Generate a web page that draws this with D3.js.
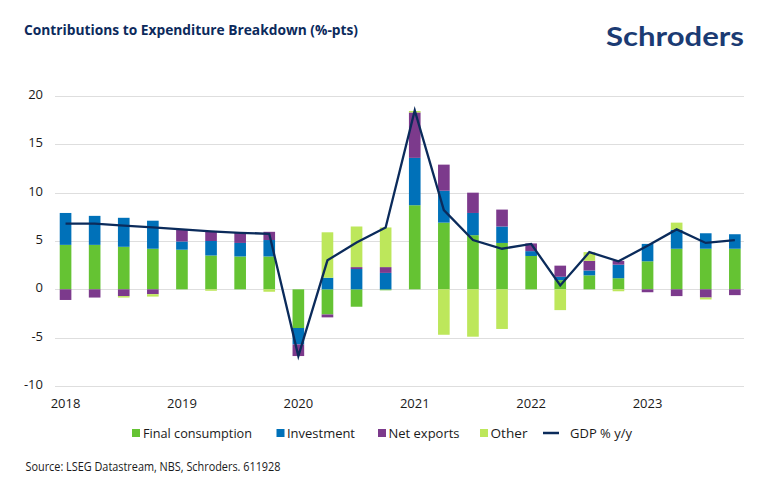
<!DOCTYPE html>
<html>
<head>
<meta charset="utf-8">
<script src="https://cdn.jsdelivr.net/npm/d3@7"></script>
<style>
  html, body { margin: 0; padding: 0; background: #ffffff; }
  svg { display: block; }
  text { font-family: "Open Sans", "Noto Sans", sans-serif; }
</style>
</head>
<body>
<svg id="chart" width="770" height="496"></svg>
<script>
// ---- Data ----
const quarters = ["2018Q1","2018Q2","2018Q3","2018Q4","2019Q1","2019Q2","2019Q3","2019Q4",
                  "2020Q1","2020Q2","2020Q3","2020Q4","2021Q1","2021Q2","2021Q3","2021Q4",
                  "2022Q1","2022Q2","2022Q3","2022Q4","2023Q1","2023Q2","2023Q3","2023Q4"];
const finalConsumption = [4.6, 4.6, 4.4, 4.2, 4.1, 3.5, 3.4, 3.4, -4.0, -2.6, -1.8, -0.1,
                          8.7, 6.9, 5.6, 4.8, 3.45, 0.95, 1.45, 1.15, 2.9, 4.2, 4.2, 4.2];
const investment = [3.3, 3.0, 3.0, 2.9, 0.85, 1.5, 1.4, 1.7, -1.7, 1.2, 2.1, 1.7,
                    4.9, 3.3, 2.3, 1.7, 0.5, 0.35, 0.5, 1.4, 1.8, 1.95, 1.6, 1.5];
const netExports = [-1.1, -0.85, -0.7, -0.5, 1.2, 0.95, 1.05, 0.85, -1.2, -0.3, 0.2, 0.6,
                    4.7, 2.7, 2.1, 1.75, 0.8, 1.15, 1.0, 0.4, -0.3, -0.7, -0.85, -0.6];
const other = [0, 0, -0.15, -0.25, 0, -0.15, 0, -0.25, 0, 4.7, 4.2, 4.1,
               0.15, -4.7, -4.9, -4.1, 0, -2.15, 0.9, -0.2, 0, 0.75, -0.2, 0];
const gdp = [6.8, 6.8, 6.6, 6.4, 6.2, 6.0, 5.85, 5.75, -6.9, 3.0, 4.85, 6.4,
             18.5, 8.2, 5.1, 4.2, 4.7, 0.4, 3.85, 2.9, 4.5, 6.2, 4.8, 5.1];
const yTicks = [-10, -5, 0, 5, 10, 15, 20];
const yearLabels = ["2018","2019","2020","2021","2022","2023"];
const seriesNames = ["Final consumption","Investment","Net exports","Other"];
const lineName = "GDP % y/y";
const titleText = "Contributions to Expenditure Breakdown (%-pts)";
const sourceText = "Source: LSEG Datastream, NBS, Schroders. 611928";

// ---- Styles ----
const colors = ["#65c333", "#0071b9", "#7c3a8c", "#bde75b"];
const lineColor = "#0b2b5b";
const navy = "#0c2a5c";

const svg = d3.select("#chart");

// table for stacking
const table = quarters.map((q, i) => ({
  q,
  "Final consumption": finalConsumption[i],
  "Investment": investment[i],
  "Net exports": netExports[i],
  "Other": other[i]
}));

const x = d3.scaleBand().domain(quarters).range([51, 749.4])
  .paddingInner(0.6).paddingOuter(0.3);
const y = d3.scaleLinear().domain([-10, 20]).range([386, 96]);

// gridlines
svg.append("g").selectAll("line").data(yTicks).join("line")
  .attr("x1", 55).attr("x2", 744)
  .attr("y1", d => Math.round(y(d)) + 0.5).attr("y2", d => Math.round(y(d)) + 0.5)
  .attr("stroke", "#dedede").attr("stroke-width", 1);

// y labels
svg.append("g").selectAll("text").data(yTicks).join("text")
  .attr("x", 43).attr("y", d => y(d) - 2)
  .attr("text-anchor", "end").attr("dominant-baseline", "central")
  .attr("font-size", 13).attr("fill", "#1a1a1a")
  .text(d => d);

// stacked bars
const stack = d3.stack().keys(seriesNames).offset(d3.stackOffsetDiverging);
const stacked = stack(table);
svg.append("g").selectAll("g").data(stacked).join("g")
  .attr("fill", (d, i) => colors[i])
  .selectAll("rect").data(d => d).join("rect")
  .attr("x", d => x(d.data.q))
  .attr("width", x.bandwidth())
  .attr("y", d => y(Math.max(d[0], d[1])))
  .attr("height", d => Math.abs(y(d[0]) - y(d[1])));

// GDP line
const line = d3.line().x((d, i) => x(quarters[i]) + x.bandwidth() / 2).y(d => y(d));
svg.append("path").datum(gdp)
  .attr("d", line).attr("fill", "none")
  .attr("stroke", lineColor).attr("stroke-width", 2.3)
  .attr("stroke-linejoin", "miter");

// x year labels (at Q1 positions)
svg.append("g").selectAll("text").data(yearLabels).join("text")
  .attr("x", d => x(d + "Q1") + x.bandwidth() / 2)
  .attr("y", 407.5)
  .attr("text-anchor", "middle")
  .attr("font-size", 13).attr("fill", "#1a1a1a")
  .text(d => d);

// title
svg.append("text").attr("x", 24).attr("y", 35)
  .attr("font-size", 14).attr("font-weight", "bold").attr("fill", navy)
  .attr("textLength", 334).attr("lengthAdjust", "spacingAndGlyphs")
  .text(titleText);

// logo
svg.append("text").attr("x", 606).attr("y", 46)
  .attr("font-size", 26).attr("font-weight", "bold").attr("fill", "#1b3b73")
  .attr("textLength", 138).attr("lengthAdjust", "spacingAndGlyphs")
  .style("font-family", "Lato, 'Open Sans', sans-serif")
  .text("Schroders");

// legend
const legendItems = [
  { name: seriesNames[0], sx: 132, tx: 143, tw: 109, type: "rect", color: colors[0] },
  { name: seriesNames[1], sx: 276.5, tx: 287, tw: 68, type: "rect", color: colors[1] },
  { name: seriesNames[2], sx: 378, tx: 388.5, tw: 71, type: "rect", color: colors[2] },
  { name: seriesNames[3], sx: 480, tx: 490.5, tw: 37, type: "rect", color: colors[3] },
  { name: lineName, sx: 543, tx: 570, tw: 62, type: "line", color: lineColor }
];
const lg = svg.append("g");
legendItems.forEach(it => {
  if (it.type === "rect") {
    lg.append("rect").attr("x", it.sx).attr("y", 429).attr("width", 8).attr("height", 8)
      .attr("fill", it.color);
  } else {
    lg.append("line").attr("x1", it.sx).attr("x2", it.sx + 16)
      .attr("y1", 433).attr("y2", 433)
      .attr("stroke", it.color).attr("stroke-width", 2.5);
  }
  lg.append("text").attr("x", it.tx).attr("y", 437.5)
    .attr("font-size", 13.5).attr("fill", "#1a1a1a")
    .attr("textLength", it.tw).attr("lengthAdjust", "spacingAndGlyphs")
    .text(it.name);
});

// source
svg.append("text").attr("x", 25.5).attr("y", 471)
  .attr("font-size", 12).attr("fill", "#1a1a1a")
  .attr("textLength", 255).attr("lengthAdjust", "spacingAndGlyphs")
  .text(sourceText);
</script>
</body>
</html>
